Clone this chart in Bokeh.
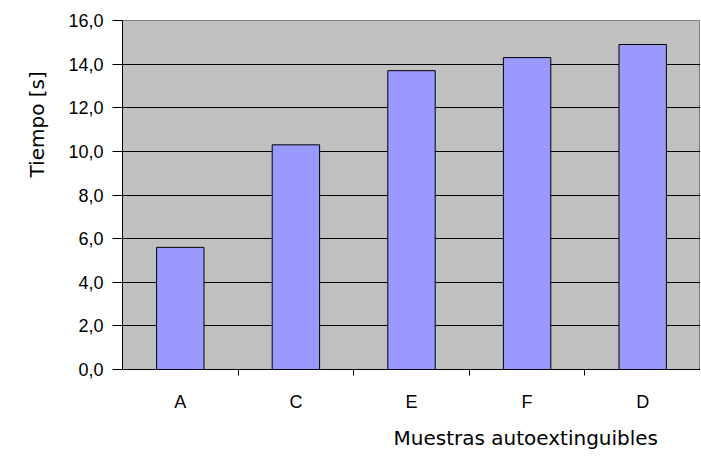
from bokeh.plotting import figure
from bokeh.models import Range1d, FixedTicker, Title
from bokeh.embed import file_html
from bokeh.resources import INLINE

categories = ["A", "C", "E", "F", "D"]
values = [5.6, 10.3, 13.7, 14.3, 14.9]
y_ticks = [0, 2, 4, 6, 8, 10, 12, 14, 16]

xs = [i + 0.5 for i in range(len(categories))]

H = 459
p = figure(width=700, height=H, output_backend="svg", toolbar_location=None,
           x_range=Range1d(0, len(categories)), y_range=Range1d(0, 16),
           min_border_left=122, min_border_right=0, min_border_top=20, min_border_bottom=H - 369)
p.background_fill_color = "#C0C0C0"
p.border_fill_color = "white"
p.outline_line_color = "#808080"

p.vbar(x=xs, top=values, width=0.41, fill_color="#9999FF", line_color="black", line_width=1)

font = "Liberation Sans"
p.xaxis.ticker = FixedTicker(ticks=xs, minor_ticks=[float(i) for i in range(1, len(categories))])
p.xaxis.major_label_overrides = {x: c for x, c in zip(xs, categories)}
p.xaxis.major_tick_out = 0
p.xaxis.major_tick_in = 0
p.xaxis.minor_tick_out = 6
p.xaxis.minor_tick_in = 0
p.xaxis.minor_tick_line_color = "black"
p.xaxis.major_label_standoff = 16
p.xaxis.major_label_text_font = font
p.xaxis.major_label_text_font_size = "18px"
p.xaxis.major_label_text_color = "black"
p.xaxis.axis_line_color = "black"

p.yaxis.ticker = FixedTicker(ticks=y_ticks, minor_ticks=[])
p.yaxis.major_label_overrides = {t: f"{t:.1f}".replace(".", ",") for t in y_ticks}
p.yaxis.major_tick_out = 10
p.yaxis.major_tick_in = 0
p.yaxis.major_tick_line_color = "black"
p.yaxis.major_label_standoff = 9
p.yaxis.major_label_text_font = font
p.yaxis.major_label_text_font_size = "18px"
p.yaxis.major_label_text_color = "black"
p.yaxis.axis_line_color = "black"

p.xgrid.visible = False
p.ygrid.grid_line_color = "black"
p.ygrid.grid_line_width = 1
p.ygrid.grid_line_alpha = 1

p.add_layout(Title(text="Muestras autoextinguibles", align="left", offset=271,
                   text_font="DejaVu Sans", text_font_size="20px", text_font_style="normal",
                   text_color="black", standoff=19), "below")
p.add_layout(Title(text="Tiempo [s]", align="left", offset=192, vertical_align="top",
                   text_font="DejaVu Sans", text_font_size="20px", text_font_style="normal",
                   text_color="black", standoff=30), "left")

open("out.html", "w").write(file_html(p, INLINE))
